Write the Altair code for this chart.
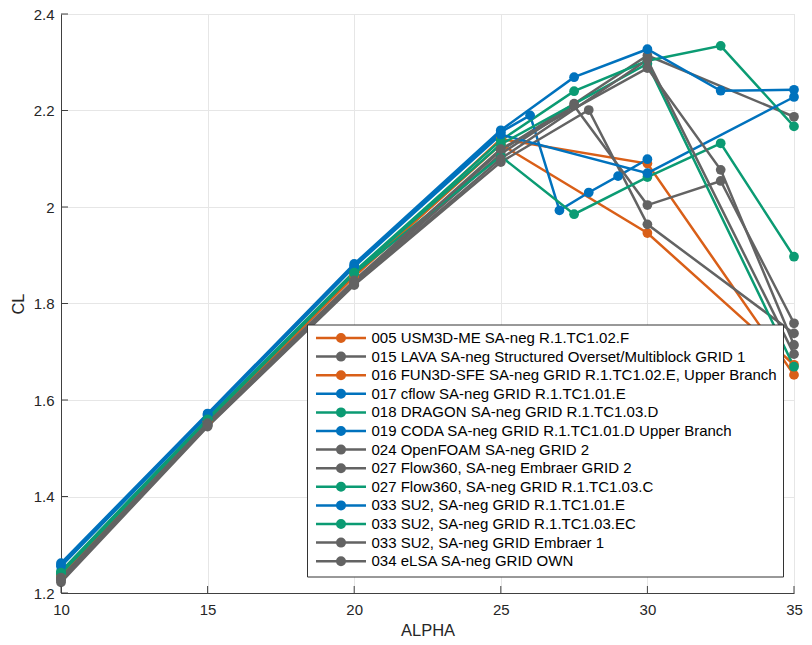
import altair as alt
import pandas as pd

series = [
    "005 USM3D-ME SA-neg R.1.TC1.02.F",
    "015 LAVA SA-neg Structured Overset/Multiblock GRID 1",
    "016 FUN3D-SFE SA-neg GRID R.1.TC1.02.E, Upper Branch",
    "017 cflow SA-neg GRID R.1.TC1.01.E",
    "018 DRAGON SA-neg GRID R.1.TC1.03.D",
    "019 CODA SA-neg GRID R.1.TC1.01.D Upper Branch",
    "024 OpenFOAM SA-neg GRID 2",
    "027 Flow360, SA-neg Embraer GRID 2",
    "027 Flow360, SA-neg GRID R.1.TC1.03.C",
    "033 SU2, SA-neg GRID R.1.TC1.01.E",
    "033 SU2, SA-neg GRID R.1.TC1.03.EC",
    "033 SU2, SA-neg GRID  Embraer 1",
    "034 eLSA SA-neg GRID OWN",
]
colors = [
    "#D95F18", "#636363", "#D95F18", "#0072BD", "#0B9B73", "#0072BD", "#636363",
    "#636363", "#0B9B73", "#0072BD", "#0B9B73", "#636363", "#636363",
]

alpha_005 = [10, 15, 20, 25, 30, 35]
cl_005 = [1.238, 1.556, 1.858, 2.141, 2.090, 1.652]
alpha_015 = [10, 15, 20, 25, 27.5, 30, 35]
cl_015 = [1.230, 1.550, 1.845, 2.117, 2.214, 2.314, 2.187]
alpha_016 = [10, 15, 20, 25, 30, 35]
cl_016 = [1.235, 1.555, 1.856, 2.130, 1.946, 1.673]
alpha_017 = [10, 15, 20, 25, 26, 27, 28, 29, 30]
cl_017 = [1.258, 1.570, 1.878, 2.155, 2.190, 1.993, 2.030, 2.064, 2.099]
alpha_018 = [10, 15, 20, 25, 27.5, 30, 32.5, 35]
cl_018 = [1.245, 1.562, 1.866, 2.138, 2.240, 2.303, 2.334, 2.167]
alpha_019 = [10, 15, 20, 25, 27.5, 30, 32.5, 35]
cl_019 = [1.262, 1.572, 1.882, 2.159, 2.269, 2.327, 2.241, 2.243]
alpha_024 = [10, 15, 20, 25, 28, 30, 35]
cl_024 = [1.222, 1.545, 1.838, 2.093, 2.201, 1.964, 1.738]
alpha_027e = [10, 15, 20, 25, 27.5, 30, 32.5, 35]
cl_027e = [1.228, 1.548, 1.842, 2.110, 2.210, 2.004, 2.054, 1.759]
alpha_027c = [10, 15, 20, 25, 27.5, 30, 32.5, 35]
cl_027c = [1.240, 1.558, 1.862, 2.105, 1.985, 2.062, 2.132, 1.897]
alpha_033a = [10, 15, 20, 25, 30, 35]
cl_033a = [1.255, 1.568, 1.876, 2.150, 2.070, 2.228]
alpha_033b = [10, 15, 20, 25, 30, 35]
cl_033b = [1.242, 1.560, 1.864, 2.130, 2.297, 1.669]
alpha_033c = [10, 15, 20, 25, 30, 32.5, 35]
cl_033c = [1.232, 1.552, 1.848, 2.120, 2.288, 2.077, 1.714]
alpha_034 = [10, 15, 20, 25, 30, 35]
cl_034 = [1.226, 1.547, 1.840, 2.100, 2.305, 1.695]

alphas = [alpha_005, alpha_015, alpha_016, alpha_017, alpha_018, alpha_019, alpha_024,
          alpha_027e, alpha_027c, alpha_033a, alpha_033b, alpha_033c, alpha_034]
cls = [cl_005, cl_015, cl_016, cl_017, cl_018, cl_019, cl_024,
       cl_027e, cl_027c, cl_033a, cl_033b, cl_033c, cl_034]

x_ticks = [10, 15, 20, 25, 30, 35]
y_ticks = [1.2, 1.4, 1.6, 1.8, 2.0, 2.2, 2.4]

rows = []
for i, (name, a, c) in enumerate(zip(series, alphas, cls)):
    for j, (xv, yv) in enumerate(zip(a, c)):
        rows.append({"series": name, "alpha": xv, "cl": yv, "idx": j})
df = pd.DataFrame(rows)

FONT = "Liberation Sans"
W, H = 733, 579

x_scale = alt.Scale(domain=[10, 35], nice=False, zero=False)
y_scale = alt.Scale(domain=[1.2, 2.4], nice=False, zero=False)
color_scale = alt.Scale(domain=series, range=colors)

# line segment with a filled-looking marker (concentric strokes), scaled by sqrt(size)/2
sym_path = ("M-5,0L5,0"
            "M-0.75,0A0.75,0.75,0,1,1,0.75,0A0.75,0.75,0,1,1,-0.75,0Z"
            "M-0.3,0A0.3,0.3,0,1,1,0.3,0A0.3,0.3,0,1,1,-0.3,0Z")

legend = alt.Legend(
    title=None, orient="none", legendX=246, legendY=310.5,
    symbolType=sym_path, symbolSize=100, symbolStrokeWidth=2.5,
    symbolOffset=20.5,
    labelFontSize=15, labelFont=FONT, labelColor="black", labelLimit=0,
    rowPadding=-0.4, padding=6, strokeColor="#333333", fillColor="white",
    labelOffset=23, symbolOpacity=1,
)

x_enc = alt.X("alpha:Q", scale=x_scale,
              axis=alt.Axis(values=x_ticks, title="ALPHA", ticks=False, labelPadding=9,
                            labelFlush=False,
                            titlePadding=5, labelFontSize=15, titleFontSize=16.5,
                            labelFont=FONT, titleFont=FONT, titleFontWeight="normal",
                            labelColor="#262626", titleColor="#262626",
                            domainColor="#404040", gridColor="#E6E6E6"))
y_enc = alt.Y("cl:Q", scale=y_scale,
              axis=alt.Axis(values=y_ticks, format="~g", title="CL", ticks=False,
                            labelFlush=False,
                            labelPadding=7, titlePadding=7, labelFontSize=15,
                            titleFontSize=16.5, labelFont=FONT, titleFont=FONT,
                            titleFontWeight="normal", labelColor="#262626",
                            titleColor="#262626", domainColor="#404040",
                            gridColor="#E6E6E6"))

base = alt.Chart(df)
lines = base.mark_line(strokeWidth=2.5).encode(
    x=x_enc, y=y_enc,
    color=alt.Color("series:N", scale=color_scale, legend=legend),
    order="idx:Q",
)
points = base.mark_circle(size=95, opacity=1).encode(
    x=alt.X("alpha:Q", scale=x_scale),
    y=alt.Y("cl:Q", scale=y_scale),
    color=alt.Color("series:N", scale=color_scale, legend=None),
)

xt = pd.DataFrame({"t": x_ticks})
yt = pd.DataFrame({"t": y_ticks})
xticks = alt.Chart(xt).mark_rule(color="#404040", strokeWidth=1).encode(
    x=alt.X("t:Q", scale=x_scale), y=alt.value(H), y2=alt.value(H - 7))
yticks = alt.Chart(yt).mark_rule(color="#404040", strokeWidth=1).encode(
    y=alt.Y("t:Q", scale=y_scale), x=alt.value(0), x2=alt.value(7))

chart = alt.layer(lines, points, xticks, yticks).properties(
    width=W, height=H,
    title=alt.TitleParams("CL vs ALPHA", fontSize=16, fontWeight="bold", font=FONT,
                          anchor="middle", offset=6, color="black"),
    autosize=alt.AutoSizeParams(type="none"),
    padding={"left": 53, "top": 6, "right": 10, "bottom": 45},
).configure_view(stroke=None).configure(background="white")

chart.save("out.html", embed_options={"renderer": "svg", "actions": False})
